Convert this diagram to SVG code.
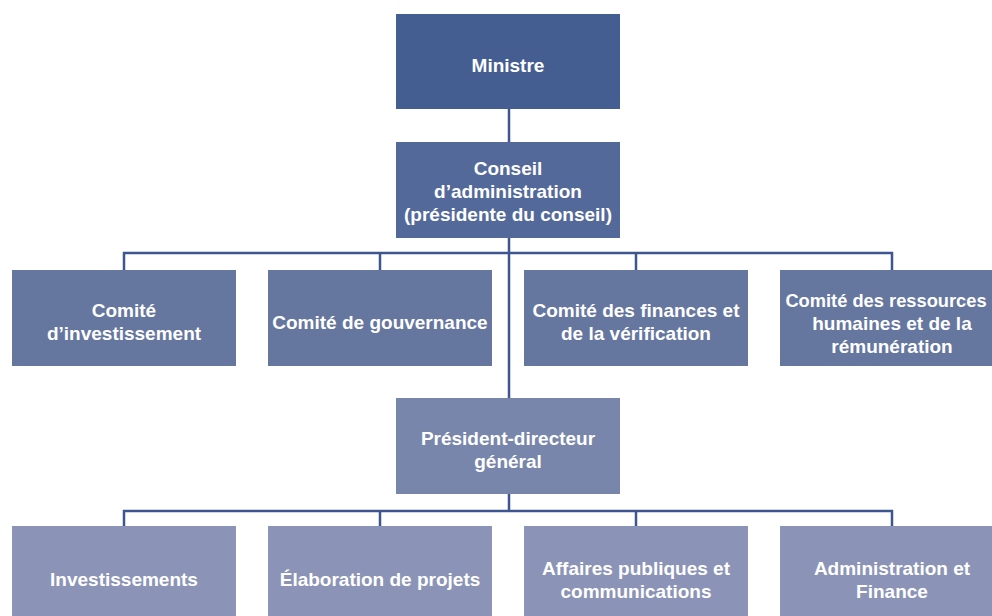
<svg xmlns="http://www.w3.org/2000/svg" width="992" height="616" viewBox="0 0 992 616">
<style>
text{font-family:"Liberation Sans",Arial,sans-serif;font-weight:bold;font-size:19px;fill:#ffffff;text-anchor:middle}
.c{stroke:#3e5690;stroke-width:2.5;fill:none}
.l0{fill:#455e92}.l1{fill:#53699a}.l2{fill:#65769f}.l3{fill:#7886ab}.l4{fill:#8b94b6}
</style>
<rect width="992" height="616" fill="#ffffff"/>
<g id="connectors">
<path class="c" d="M509 109V398"/>
<path class="c" d="M124 270V253H892V270M380 253V270M636 253V270"/>
<path class="c" d="M509 494V511M124 526V511H892V526M380 511V526M636 511V526"/>
</g>
<g id="ministre"><rect class="l0" x="396" y="14" width="224" height="95"/><text x="508" y="72">Ministre</text></g>
<g id="conseil"><rect class="l1" x="396" y="142" width="224" height="96"/><text x="508" y="175">Conseil</text><text x="508" y="198">d’administration</text><text x="508" y="221">(présidente du conseil)</text></g>
<g id="c1"><rect class="l2" x="12" y="270" width="224" height="96"/><text x="124" y="317">Comité</text><text x="124" y="340">d’investissement</text></g>
<g id="c2"><rect class="l2" x="268" y="270" width="224" height="96"/><text x="380" y="329">Comité de gouvernance</text></g>
<g id="c3"><rect class="l2" x="524" y="270" width="224" height="96"/><text x="636" y="317">Comité des finances et</text><text x="636" y="340">de la vérification</text></g>
<g id="c4"><rect class="l2" x="780" y="270" width="224" height="96"/><text x="886" y="307" style="font-size:18.3px">Comité des ressources</text><text x="892" y="330">humaines et de la</text><text x="892" y="353">rémunération</text></g>
<g id="pdg"><rect class="l3" x="396" y="398" width="224" height="96"/><text x="508" y="445">Président-directeur</text><text x="508" y="468">général</text></g>
<g id="b1"><rect class="l4" x="12" y="526" width="224" height="96"/><text x="124" y="586">Investissements</text></g>
<g id="b2"><rect class="l4" x="268" y="526" width="224" height="96"/><text x="380" y="586">Élaboration de projets</text></g>
<g id="b3"><rect class="l4" x="524" y="526" width="224" height="96"/><text x="636" y="575">Affaires publiques et</text><text x="636" y="598">communications</text></g>
<g id="b4"><rect class="l4" x="780" y="526" width="224" height="96"/><text x="892" y="575">Administration et</text><text x="892" y="598">Finance</text></g>
</svg>
